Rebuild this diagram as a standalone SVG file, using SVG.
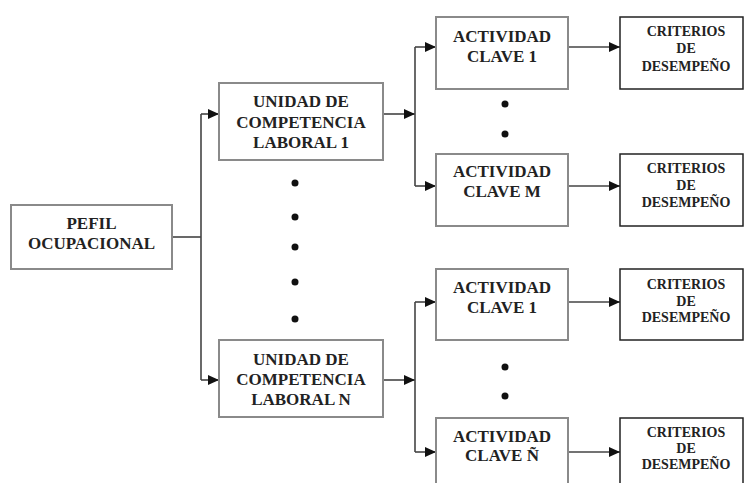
<svg xmlns="http://www.w3.org/2000/svg" width="744" height="483" viewBox="0 0 744 483">
<defs>
<marker id="ah" markerUnits="userSpaceOnUse" markerWidth="12" markerHeight="10" refX="11" refY="5" orient="auto">
<path d="M0,0 L11,5 L0,10 Z" fill="#111"/>
</marker>
<style>
.box{fill:#fff;stroke:#8a8a8a;stroke-width:2}
.cbox{fill:#fff;stroke:#222;stroke-width:1.5}
.t{font-family:"Liberation Serif","Times New Roman",serif;font-weight:bold;font-size:17px;fill:#222;text-anchor:middle}
.s{font-family:"Liberation Serif","Times New Roman",serif;font-weight:bold;font-size:14px;fill:#222;text-anchor:middle}
.ln{fill:none;stroke:#444;stroke-width:1.6}
.dot{fill:#111}
</style>
</defs>
<rect width="744" height="483" fill="#fff"/>
<g id="connectors">
<line class="ln" x1="172" y1="237" x2="201" y2="237"/>
<line class="ln" x1="201" y1="114" x2="201" y2="380"/>
<line class="ln" x1="201" y1="114" x2="219" y2="114" marker-end="url(#ah)"/>
<line class="ln" x1="201" y1="380" x2="219" y2="380" marker-end="url(#ah)"/>
<line class="ln" x1="383" y1="114" x2="415" y2="114" marker-end="url(#ah)"/>
<line class="ln" x1="415" y1="47" x2="415" y2="186"/>
<line class="ln" x1="415" y1="47" x2="436" y2="47" marker-end="url(#ah)"/>
<line class="ln" x1="415" y1="186" x2="436" y2="186" marker-end="url(#ah)"/>
<line class="ln" x1="383" y1="380" x2="415" y2="380" marker-end="url(#ah)"/>
<line class="ln" x1="415" y1="302" x2="415" y2="452"/>
<line class="ln" x1="415" y1="302" x2="436" y2="302" marker-end="url(#ah)"/>
<line class="ln" x1="415" y1="452" x2="436" y2="452" marker-end="url(#ah)"/>
<line class="ln" x1="568" y1="47" x2="620" y2="47" marker-end="url(#ah)"/>
<line class="ln" x1="568" y1="186" x2="620" y2="186" marker-end="url(#ah)"/>
<line class="ln" x1="568" y1="302" x2="620" y2="302" marker-end="url(#ah)"/>
<line class="ln" x1="568" y1="452" x2="620" y2="452" marker-end="url(#ah)"/>
</g>
<g id="dots">
<circle class="dot" cx="295" cy="183" r="3.5"/>
<circle class="dot" cx="295" cy="217" r="3.5"/>
<circle class="dot" cx="295" cy="247" r="3.5"/>
<circle class="dot" cx="295" cy="282" r="3.5"/>
<circle class="dot" cx="295" cy="319" r="3.5"/>
<circle class="dot" cx="505" cy="104" r="3.5"/>
<circle class="dot" cx="505" cy="134" r="3.5"/>
<circle class="dot" cx="505" cy="367" r="3.5"/>
<circle class="dot" cx="505" cy="396" r="3.5"/>
</g>
<g id="pefil">
<rect class="box" x="11" y="205" width="161" height="64"/>
<text class="t" x="91.5" y="229">PEFIL</text>
<text class="t" x="91.5" y="249">OCUPACIONAL</text>
</g>
<g id="unidad1">
<rect class="box" x="219" y="83" width="164" height="77"/>
<text class="t" x="301" y="107">UNIDAD DE</text>
<text class="t" x="301" y="128">COMPETENCIA</text>
<text class="t" x="301" y="148">LABORAL 1</text>
</g>
<g id="unidadN">
<rect class="box" x="219" y="340" width="164" height="77"/>
<text class="t" x="301" y="365">UNIDAD DE</text>
<text class="t" x="301" y="385">COMPETENCIA</text>
<text class="t" x="301" y="405">LABORAL N</text>
</g>
<g id="act1a">
<rect class="box" x="436" y="17" width="132" height="72"/>
<text class="t" x="502" y="42">ACTIVIDAD</text>
<text class="t" x="502" y="62">CLAVE 1</text>
</g>
<g id="actM">
<rect class="box" x="436" y="154" width="132" height="72"/>
<text class="t" x="502" y="177">ACTIVIDAD</text>
<text class="t" x="502" y="197">CLAVE M</text>
</g>
<g id="act1b">
<rect class="box" x="436" y="269" width="132" height="71"/>
<text class="t" x="502" y="293">ACTIVIDAD</text>
<text class="t" x="502" y="313">CLAVE 1</text>
</g>
<g id="actN">
<rect class="box" x="436" y="418" width="132" height="75"/>
<text class="t" x="502" y="442">ACTIVIDAD</text>
<text class="t" x="502" y="461">CLAVE Ñ</text>
</g>
<g id="crit1">
<rect class="cbox" x="620" y="17" width="123" height="72"/>
<text class="s" x="686" y="36">CRITERIOS</text>
<text class="s" x="686" y="53">DE</text>
<text class="s" x="686" y="71">DESEMPEÑO</text>
</g>
<g id="crit2">
<rect class="cbox" x="620" y="154" width="123" height="72"/>
<text class="s" x="686" y="173">CRITERIOS</text>
<text class="s" x="686" y="190">DE</text>
<text class="s" x="686" y="207">DESEMPEÑO</text>
</g>
<g id="crit3">
<rect class="cbox" x="620" y="269" width="123" height="71"/>
<text class="s" x="686" y="289">CRITERIOS</text>
<text class="s" x="686" y="306">DE</text>
<text class="s" x="686" y="322">DESEMPEÑO</text>
</g>
<g id="crit4">
<rect class="cbox" x="620" y="418" width="123" height="75"/>
<text class="s" x="686" y="437">CRITERIOS</text>
<text class="s" x="686" y="453">DE</text>
<text class="s" x="686" y="469">DESEMPEÑO</text>
</g>
</svg>
